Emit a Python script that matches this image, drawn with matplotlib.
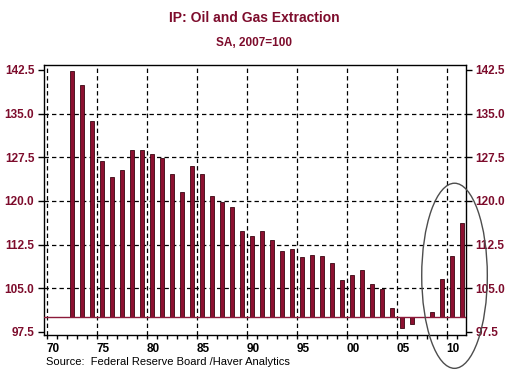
import matplotlib.pyplot as plt
from matplotlib.patches import Ellipse
from matplotlib.ticker import MultipleLocator

# annual index, SA, 2007=100
years = list(range(1972, 2012))
values = [142.3, 139.9, 133.8, 126.9, 124.2, 125.4, 128.7, 128.7, 128.0, 127.3,
          124.6, 121.6, 126.0, 124.6, 120.8, 119.9, 119.0, 114.8, 113.9, 114.8,
          113.3, 111.4, 111.7, 110.4, 110.8, 110.6, 109.3, 106.4, 107.2, 108.1,
          105.7, 104.8, 101.6, 98.2, 98.8, 100.0, 100.9, 106.6, 110.6, 116.2]
base = 100.0

xticks = [1970, 1975, 1980, 1985, 1990, 1995, 2000, 2005, 2010]
xticklabels = ["70", "75", "80", "85", "90", "95", "00", "05", "10"]
yticks = [97.5, 105.0, 112.5, 120.0, 127.5, 135.0, 142.5]

maroon = "#7d0c2c"
plt.rcParams['font.family'] = ['Liberation Sans', 'DejaVu Sans']

fig = plt.figure(figsize=(5.26, 3.75), dpi=100)
ax = fig.add_axes([0.0837, 0.1067, 0.8017, 0.72])

xs = [y + 0.5 for y in years]
ax.bar(xs, [v - base for v in values], bottom=base, width=0.42,
       color="#8c1030", edgecolor="#3a0612", linewidth=0.6, zorder=3)
ax.axhline(base, color="#8c1a3a", lw=1.0, zorder=4)

ax.set_xlim(1969.73, 2011.9)
ax.set_ylim(96.98, 143.36)

# dashed grid
for x in xticks:
    ax.axvline(x, color="black", lw=0.9, ls=(0, (3.5, 2.5)), zorder=1)
for y in yticks[1:-1]:
    ax.axhline(y, color="black", lw=0.9, ls=(0, (3.5, 2.5)), zorder=1)

ax.set_xticks(xticks)
ax.set_xticklabels(xticklabels, ha="left")
ax.xaxis.set_minor_locator(MultipleLocator(1))
ax.set_yticks(yticks)
ax.set_yticklabels([f"{v:.1f}" for v in yticks])
ax.tick_params(axis="y", which="major", left=True, right=True,
               labelleft=True, labelright=True, length=4, width=1,
               labelsize=8.5, labelcolor=maroon, pad=3)
ax.tick_params(axis="x", which="both", length=3, width=1, labelsize=8.5, pad=3)
for lab in ax.get_xticklabels():
    lab.set_fontweight("bold")
for t in ax.yaxis.get_major_ticks():
    t.label1.set_fontweight("bold")
    t.label2.set_fontweight("bold")
    t.label2.set_color(maroon)

for s in ax.spines.values():
    s.set_linewidth(1.0)

ax.add_patch(Ellipse((2010.78, 107.15), 6.56, 31.8, fill=False,
                     edgecolor="#4d4d4d", lw=1.0, clip_on=False, zorder=6))

fig.text(0.483, 0.953, "IP: Oil and Gas Extraction", ha="center", va="center",
         fontsize=10, fontweight="bold", color=maroon)
fig.text(0.483, 0.885, "SA, 2007=100", ha="center", va="center",
         fontsize=8.5, fontweight="bold", color=maroon)
fig.text(0.088, 0.035, "Source:  Federal Reserve Board /Haver Analytics",
         ha="left", va="center", fontsize=8, color="black")

fig.savefig("out.png", dpi=100)
